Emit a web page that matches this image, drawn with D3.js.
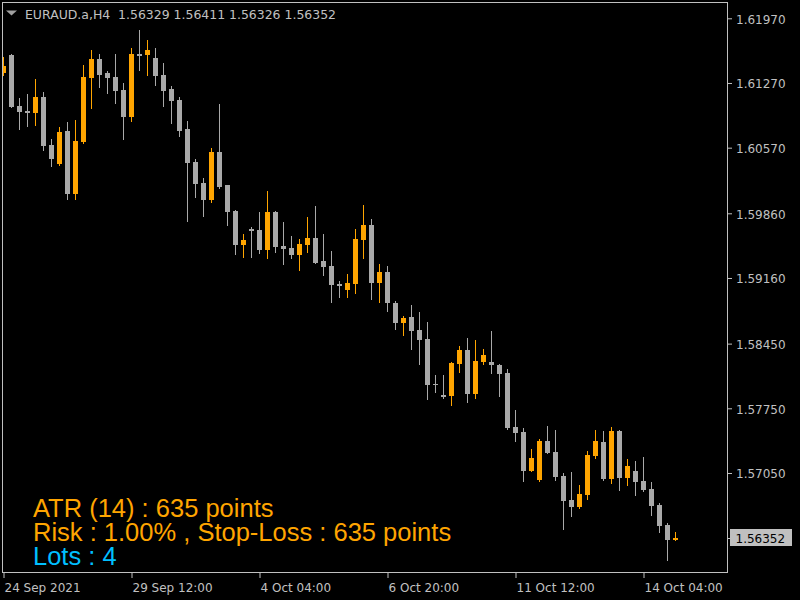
<!DOCTYPE html>
<html>
<head>
<meta charset="utf-8">
<script src="https://cdn.jsdelivr.net/npm/d3@7"></script>
<title>EURAUD H4</title>
<style>
  body { margin: 0; background: #000; }
  text { white-space: pre; }
</style>
</head>
<body>
<svg width="800" height="600" id="mainsvg"></svg>
<script>
// H4 candles, 24 Sep 2021 .. 14 Oct 2021
const opens = [1.61378,1.61570,1.61018,1.60967,1.60945,1.61115,1.60596,1.60394,1.60747,1.60069,
  1.60632,1.61324,1.61526,1.61375,1.61332,1.61191,1.60902,1.61584,1.61573,1.61537,
  1.61353,1.61202,1.61083,1.60769,1.60412,1.60185,1.60004,1.60520,1.60163,1.59882,
  1.59517,1.59687,1.59676,1.59463,1.59871,1.59503,1.59481,1.59409,1.59517,1.59590,
  1.59341,1.59287,1.59092,1.59030,1.59095,1.59571,1.59730,1.59106,1.59222,1.58886,
  1.58673,1.58735,1.58594,1.58497,1.58013,1.57894,1.57883,1.58230,1.58381,1.57905,
  1.58248,1.58248,1.58224,1.58129,1.57545,1.57491,1.57072,1.56974,1.57393,1.57274,
  1.57014,1.56755,1.56682,1.56812,1.57234,1.57382,1.56985,1.57501,1.56996,1.57069,
  1.56960,1.56874,1.56701,1.56488,1.56329];
const highs = [1.61551,1.61584,1.61104,1.61148,1.61310,1.61169,1.60661,1.60791,1.60845,1.60866,
  1.61461,1.61624,1.61584,1.61397,1.61584,1.61267,1.61645,1.61840,1.61732,1.61645,
  1.61483,1.61234,1.61115,1.60856,1.60444,1.60239,1.60563,1.61040,1.60171,1.59893,
  1.59633,1.59709,1.59871,1.60098,1.59882,1.59763,1.59611,1.59579,1.59817,1.59936,
  1.59633,1.59449,1.59128,1.59200,1.59687,1.59947,1.59795,1.59308,1.59287,1.58908,
  1.58746,1.58865,1.58789,1.58681,1.58107,1.58107,1.58251,1.58424,1.58511,1.58489,
  1.58389,1.58583,1.58226,1.58172,1.57729,1.57534,1.57307,1.57415,1.57555,1.57512,
  1.57047,1.57058,1.56917,1.57285,1.57512,1.57501,1.57545,1.57512,1.57198,1.57177,
  1.57220,1.56950,1.56722,1.56509,1.56411];
const lows = [1.61353,1.61007,1.60772,1.60801,1.60816,1.60542,1.60372,1.60380,1.60015,1.60015,
  1.60621,1.60999,1.61227,1.61162,1.61054,1.60664,1.60859,1.61411,1.61357,1.61248,
  1.61021,1.60837,1.60697,1.59777,1.60036,1.59831,1.59982,1.60134,1.59734,1.59420,
  1.59387,1.59387,1.59431,1.59376,1.59441,1.59312,1.59376,1.59247,1.59441,1.59318,
  1.59193,1.58900,1.58955,1.58955,1.58998,1.59376,1.58933,1.58900,1.58803,1.58608,
  1.58543,1.58392,1.58230,1.57851,1.57927,1.57862,1.57786,1.58143,1.57818,1.57862,
  1.58230,1.58132,1.57883,1.57526,1.57396,1.56964,1.57068,1.56964,1.57264,1.56974,
  1.56444,1.56585,1.56671,1.56769,1.57212,1.56974,1.56942,1.56866,1.56920,1.56812,
  1.56855,1.56596,1.56412,1.56109,1.56326];
const closes = [1.61451,1.61010,1.60956,1.60945,1.61115,1.60588,1.60448,1.60737,1.60069,1.60639,
  1.61332,1.61526,1.61357,1.61324,1.61183,1.60902,1.61581,1.61562,1.61624,1.61346,
  1.61183,1.61075,1.60751,1.60404,1.60177,1.60004,1.60520,1.60145,1.59874,1.59517,
  1.59568,1.59669,1.59463,1.59871,1.59496,1.59474,1.59409,1.59525,1.59590,1.59322,
  1.59279,1.59084,1.59074,1.59103,1.59579,1.59730,1.59106,1.59222,1.58890,1.58673,
  1.58724,1.58587,1.58489,1.58002,1.57998,1.57877,1.58240,1.58381,1.57905,1.58262,
  1.58324,1.58219,1.58121,1.57537,1.57483,1.57072,1.57209,1.57393,1.57267,1.57007,
  1.56747,1.56682,1.56820,1.57242,1.57393,1.56985,1.57501,1.56996,1.57123,1.56953,
  1.56866,1.56693,1.56477,1.56325,1.56352];

const priceTicks = [1.6197, 1.6127, 1.6057, 1.5986, 1.5916, 1.5845, 1.5775, 1.5705];
const timeTickIdx = [0, 16, 32, 48, 64, 80];
const timeTickLabels = ['24 Sep 2021', '29 Sep 12:00', '4 Oct 04:00', '6 Oct 20:00', '11 Oct 12:00', '14 Oct 04:00'];

const header = 'EURAUD.a,H4  1.56329 1.56411 1.56326 1.56352';
const infoLines = [
  {t: 'ATR (14) : 635 points', c: '#ffa500'},
  {t: 'Risk : 1.00% , Stop-Loss : 635 points', c: '#ffa500'},
  {t: 'Lots : 4', c: '#00bfff'}
];

const svg = d3.select('#mainsvg');
const fg = '#c0c0c0';
const bull = '#ffa500', bear = '#a9a9a9';

svg.append('rect').attr('width', 800).attr('height', 600).attr('fill', '#000');

const x = d3.scaleLinear().domain([0, 84]).range([3, 675]);
const y = d3.scaleLinear().domain([1.6197, 1.5705]).range([18.3, 473]);

svg.append('defs').append('clipPath').attr('id', 'plot')
  .append('rect').attr('x', 3).attr('y', 3).attr('width', 724).attr('height', 569);

const candles = opens.map((o, i) => ({i, o, h: highs[i], l: lows[i], c: closes[i]}));

const g = svg.append('g').attr('clip-path', 'url(#plot)');
const cg = g.selectAll('g.candle').data(candles).join('g').attr('class', 'candle');

cg.append('line')
  .attr('x1', d => x(d.i) + 0.5).attr('x2', d => x(d.i) + 0.5)
  .attr('y1', d => Math.round(y(d.h))).attr('y2', d => Math.round(y(d.l)) + 1)
  .attr('stroke', d => d.c > d.o ? bull : bear).attr('stroke-width', 1);

cg.append('rect')
  .attr('x', d => x(d.i) - 2).attr('width', 5)
  .attr('y', d => Math.round(y(Math.max(d.o, d.c))))
  .attr('height', d => Math.max(1, Math.round(y(Math.min(d.o, d.c))) - Math.round(y(Math.max(d.o, d.c)))))
  .attr('fill', d => d.c > d.o ? bull : bear);

// frame
svg.append('rect').attr('x', 2.5).attr('y', 2.5).attr('width', 725).attr('height', 570)
  .attr('fill', 'none').attr('stroke', fg);

// price axis
const yAxis = svg.append('g').attr('transform', 'translate(728,0)')
  .call(d3.axisRight(y).tickValues(priceTicks).tickSize(4).tickPadding(4)
    .tickFormat(d => d.toFixed(5)));
yAxis.select('.domain').remove();
yAxis.selectAll('line').attr('stroke', fg);
yAxis.selectAll('text').attr('fill', fg).attr('font-family', 'DejaVu Sans').attr('font-size', 12)
  .attr('dy', '0.4em');

// current price marker
const last = closes[closes.length - 1];
svg.append('line').attr('x1', 728).attr('x2', 732).attr('y1', Math.round(y(last)) + 0.5).attr('y2', Math.round(y(last)) + 0.5)
  .attr('stroke', fg);
svg.append('rect').attr('x', 730).attr('y', Math.round(y(last)) - 9).attr('width', 62).attr('height', 17)
  .attr('fill', fg);
svg.append('text').attr('x', 735.5).attr('y', Math.round(y(last)) + 4.5)
  .attr('font-family', 'DejaVu Sans').attr('font-size', 12).attr('fill', '#000')
  .text(last.toFixed(5));

// time axis
const xAxis = svg.append('g').attr('transform', 'translate(0,573)')
  .call(d3.axisBottom(x).tickValues(timeTickIdx).tickSize(5).tickPadding(5)
    .tickFormat((d, i) => timeTickLabels[i]));
xAxis.select('.domain').remove();
xAxis.selectAll('line').attr('stroke', fg).attr('transform', 'translate(0.5,0)');
xAxis.selectAll('text').attr('fill', fg).attr('font-family', 'DejaVu Sans').attr('font-size', 12)
  .attr('text-anchor', 'start').attr('dx', 1);

// header
svg.append('path').attr('d', 'M6,10.5 L17,10.5 L11.5,15.5 Z').attr('fill', '#a0a0a0');
svg.append('text').attr('x', 25).attr('y', 18.5)
  .attr('font-family', 'DejaVu Sans').attr('font-size', 12).attr('fill', fg)
  .attr('textLength', 311).attr('lengthAdjust', 'spacingAndGlyphs')
  .text(header);

// info block
svg.selectAll('text.info').data(infoLines).join('text').attr('class', 'info')
  .attr('x', 33).attr('y', (d, i) => 517 + i * 24)
  .attr('font-family', 'Liberation Sans, Arial').attr('font-size', 25.5)
  .attr('fill', d => d.c).text(d => d.t);
</script>
</body>
</html>
